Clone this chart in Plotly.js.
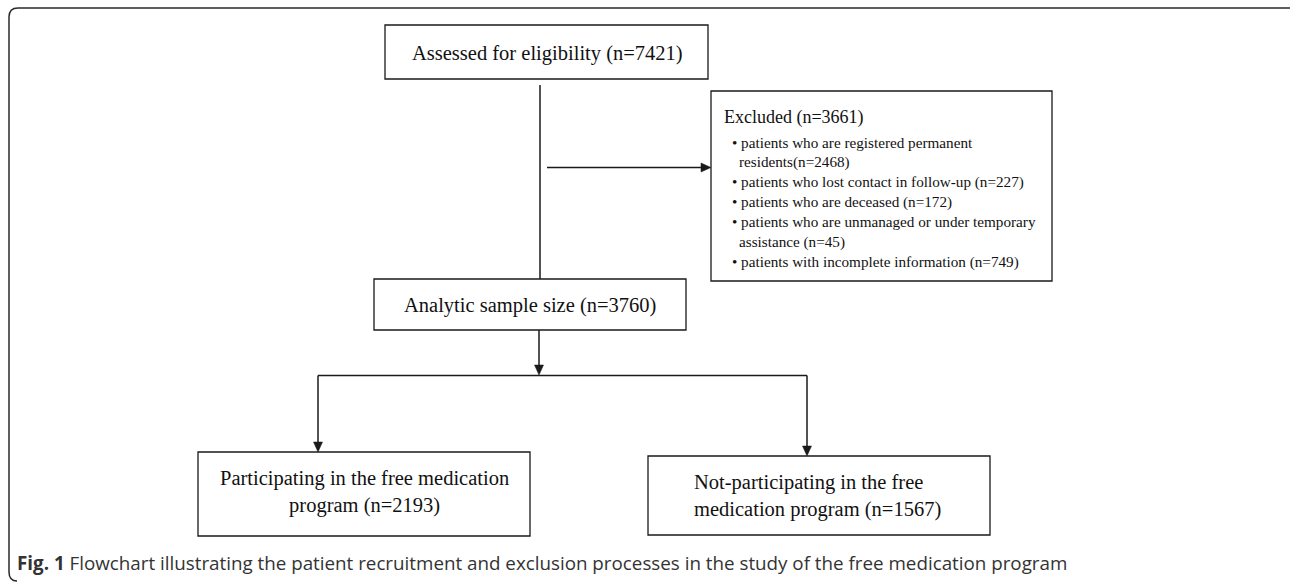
<!DOCTYPE html>
<html>
<head>
<meta charset="utf-8">
<script src="https://cdn.plot.ly/plotly-3.0.1.min.js"></script>
<style>
  html, body { margin: 0; padding: 0; background: #ffffff; }
  #chart { width: 1290px; height: 582px; }
</style>
</head>
<body>
<div id="chart"></div>
<script>
// ---------------- DATA ----------------
const stageLabels = [
  "Assessed for eligibility",
  "Excluded",
  "Analytic sample size",
  "Participating in the free medication program",
  "Not-participating in the free medication program"
];
const stageCounts = [7421, 3661, 3760, 2193, 1567];

const exclusionReasons = [
  "patients who are registered permanent residents",
  "patients who lost contact in follow-up",
  "patients who are deceased",
  "patients who are unmanaged or under temporary assistance",
  "patients with incomplete information"
];
const exclusionCounts = [2468, 227, 172, 45, 749];
const exclusionCountSep = ["", " ", " ", " ", " "];

const captionLabel = "Fig. 1";
const captionText = "Flowchart illustrating the patient recruitment and exclusion processes in the study of the free medication program";

// ---------------- LAYOUT HELPERS ----------------
const INK = "#1a1a1a";
const SERIF = "Liberation Serif, Times New Roman, serif";

function rect(x0, y0, x1, y1) {
  return {type: "rect", xref: "x", yref: "y", x0: x0, y0: y0, x1: x1, y1: y1,
          line: {color: INK, width: 1.3}, fillcolor: "rgba(0,0,0,0)", layer: "above"};
}
function seg(x0, y0, x1, y1) {
  return {type: "line", xref: "x", yref: "y", x0: x0, y0: y0, x1: x1, y1: y1,
          line: {color: INK, width: 1.5}, layer: "above"};
}
function headDown(x, y) {
  return {type: "path", xref: "x", yref: "y",
          path: `M ${x - 4.5},${y - 10} L ${x + 4.5},${y - 10} L ${x},${y} Z`,
          fillcolor: INK, line: {color: INK, width: 0.5}, layer: "above"};
}
function headRight(x, y) {
  return {type: "path", xref: "x", yref: "y",
          path: `M ${x - 10},${y - 4.5} L ${x - 10},${y + 4.5} L ${x},${y} Z`,
          fillcolor: INK, line: {color: INK, width: 0.5}, layer: "above"};
}
function label(text, x, y, size, xanchor) {
  return {text: text, x: x, y: y, xref: "x", yref: "y", showarrow: false,
          xanchor: xanchor || "center", yanchor: "middle", align: xanchor || "center",
          font: {family: SERIF, size: size, color: "#111111"}};
}
function withCount(i) { return stageLabels[i] + " (n=" + stageCounts[i] + ")"; }
function wrapAt(text, nWords) {
  const w = text.split(" ");
  return w.slice(0, nWords).join(" ") + "<br>" + w.slice(nWords).join(" ");
}

// ---------------- SHAPES ----------------
const shapes = [];
// outer rounded frame
shapes.push({type: "path", xref: "x", yref: "y",
  path: "M 1292,8 L 18,8 Q 9,8 9,17 L 9,572 Q 9,581 17,581",
  line: {color: "#2a2a2a", width: 1.5}, fillcolor: "rgba(0,0,0,0)"});

// boxes
shapes.push(rect(385, 25, 708, 79));      // assessed
shapes.push(rect(711, 91, 1052, 281));    // excluded
shapes.push(rect(374, 279, 686, 330));    // analytic
shapes.push(rect(198, 452, 530, 536));    // participating
shapes.push(rect(648, 456, 990, 535));    // not participating

// connectors
shapes.push(seg(540, 85, 540, 279));
shapes.push(seg(547, 167.5, 703, 167.5));
shapes.push(headRight(711, 167.5));
shapes.push(seg(539, 330, 539, 366));
shapes.push(headDown(539, 375));
shapes.push(seg(318, 375.5, 807, 375.5));
shapes.push(seg(318, 375.5, 318, 444));
shapes.push(headDown(318, 452));
shapes.push(seg(807, 375.5, 807, 448));
shapes.push(headDown(807, 456));

// ---------------- ANNOTATIONS ----------------
const annotations = [];
annotations.push(label(withCount(0), 547, 53, 20.5));
annotations.push(label(withCount(2), 530, 305, 20.5));
annotations.push(label(wrapAt(withCount(3), 5), 364, 492, 20.5));
annotations.push(label(wrapAt(withCount(4), 4), 692, 495.5, 20.5, "left"));

// excluded box
annotations.push(label(withCount(1), 722, 117, 18, "left"));
const wrapWords = [5, 0, 0, 7, 0];
const exLines = [];
exclusionReasons.forEach(function (r, i) {
  const tail = exclusionCountSep[i] + "(n=" + exclusionCounts[i] + ")";
  const words = r.split(" ");
  let parts;
  if (wrapWords[i] > 0) parts = [words.slice(0, wrapWords[i]).join(" "), words.slice(wrapWords[i]).join(" ") + tail];
  else parts = [r + tail];
  parts.forEach(function (p, k) { exLines.push({text: (k === 0 ? "\u2022 " : "") + p, cont: k > 0}); });
});
exLines.forEach(function (ln, j) {
  annotations.push(label(ln.text, ln.cont ? 737 : 730, 142.3 + j * 19.9, 15.2, "left"));
});

// caption
annotations.push({
  text: "<b>" + captionLabel + "</b> " + captionText,
  x: 15, y: 563, xref: "x", yref: "y", showarrow: false,
  xanchor: "left", yanchor: "middle",
  font: {family: "Open Sans, Noto Sans, sans-serif", size: 18.8, color: "#333333"}
});

const layout = {
  width: 1290, height: 582,
  margin: {l: 0, r: 0, t: 0, b: 0, pad: 0},
  paper_bgcolor: "#ffffff", plot_bgcolor: "#ffffff",
  showlegend: false,
  xaxis: {range: [0, 1290], visible: false, fixedrange: true},
  yaxis: {range: [582, 0], visible: false, fixedrange: true},
  shapes: shapes,
  annotations: annotations
};

Plotly.newPlot("chart", [], layout, {staticPlot: true, displayModeBar: false});
</script>
</body>
</html>
